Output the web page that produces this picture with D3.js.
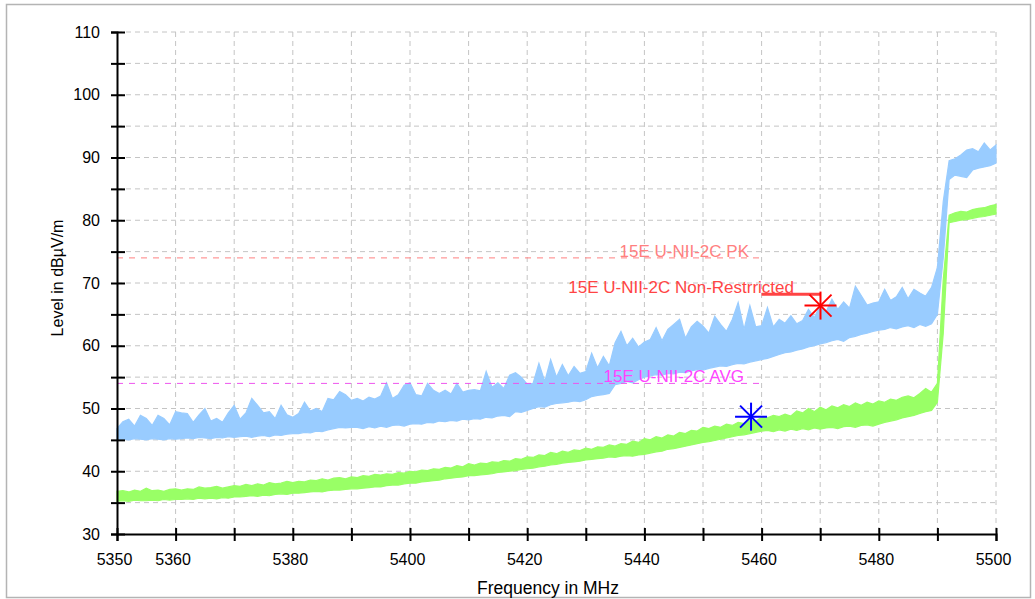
<!DOCTYPE html>
<html>
<head>
<meta charset="utf-8">
<script src="https://cdn.jsdelivr.net/npm/d3@7"></script>
<style>
  body { margin: 0; background: #fff; }
  svg { font-family: "Liberation Sans", Arial, sans-serif; }
</style>
</head>
<body>
<svg id="chart"></svg>
<script>
var width = 1035,
    height = 599;

// frequency axis (MHz), traces sampled every 1 MHz from 5350
var freqStart = 5350,
    freqEnd = 5500;

// peak trace (light blue): upper / lower edge of the noise band, dBµV/m
var pkHi = [46.8, 47.9, 48.3, 47.2, 48.9, 48.4, 47.3, 48.9, 48.4, 47.4, 49.5,
  49.3, 49.2, 47.8, 49.0, 50.0, 48.0, 48.4, 47.8, 49.3, 50.5,
  48.3, 49.3, 51.6, 50.5, 49.3, 49.5, 48.4, 50.5, 49.0, 48.6,
  49.2, 51.0, 49.6, 50.0, 49.5, 51.6, 51.4, 52.7, 52.2, 51.3,
  51.6, 51.2, 51.8, 51.5, 52.0, 54.1, 51.6, 52.2, 53.7, 54.1,
  52.2, 52.0, 54.0, 52.9, 52.4, 52.9, 52.3, 54.0, 52.6, 52.9,
  53.0, 52.8, 55.9, 53.4, 54.1, 53.2, 55.3, 55.7, 55.0, 53.9,
  54.0, 57.2, 54.3, 57.8, 55.0, 57.0, 55.2, 56.7, 55.6, 55.9,
  58.8, 56.5, 58.3, 56.8, 60.5, 62.3, 60.0, 61.2, 59.8, 60.6,
  61.0, 62.9, 60.8, 62.6, 63.4, 64.2, 61.2, 63.0, 63.9, 63.1,
  62.0, 64.7, 63.4, 62.3, 64.2, 66.9, 62.6, 66.4, 63.0, 63.2,
  66.1, 63.0, 64.2, 63.6, 64.8, 63.5, 64.0, 65.8, 64.5, 66.4,
  65.4, 67.4, 65.8, 67.0, 66.0, 69.5, 68.0, 66.5, 66.8, 67.0,
  69.0, 67.2, 67.8, 69.3, 67.5, 69.0, 68.4, 67.9, 69.3, 72.5,
  83.0, 89.5, 89.8, 90.4, 91.2, 91.4, 90.9, 92.3, 91.2, 92.0];
var pkLo = [45.0, 45.1, 45.0, 45.2, 45.1, 45.0, 45.2, 45.1, 45.0, 45.2, 45.1,
  45.2, 45.3, 45.2, 45.4, 45.3, 45.2, 45.4, 45.3, 45.5, 45.4,
  45.5, 45.6, 45.4, 45.6, 45.7, 45.5, 45.8, 45.7, 45.9, 46.0,
  46.0, 46.2, 46.1, 46.4, 46.3, 46.6, 46.8, 47.0, 46.9, 47.0,
  47.0, 46.8, 47.1, 46.9, 47.2, 47.0, 47.3, 47.4, 47.2, 47.5,
  47.6, 47.5, 47.8, 47.7, 48.0, 47.9, 48.1, 48.0, 48.3, 48.2,
  48.4, 48.3, 48.6, 48.5, 48.8, 48.9, 48.7, 49.5, 49.4, 49.7,
  50.0, 50.3, 50.2, 50.6, 50.8, 50.9, 51.0, 51.2, 51.1, 51.4,
  51.9, 52.1, 52.2, 52.4, 53.8, 54.0, 54.3, 54.1, 54.6, 55.0,
  55.2, 55.4, 55.3, 55.6, 55.5, 55.8, 55.7, 56.0, 56.2, 56.1,
  56.4, 56.6, 56.8, 56.7, 57.0, 57.2, 57.1, 57.4, 57.6, 57.8,
  58.0, 58.3, 58.6, 58.9, 59.0, 59.3, 59.5, 59.8, 60.0, 60.3,
  60.5, 60.8, 61.0, 60.7, 61.3, 61.5, 61.8, 62.0, 62.3, 62.5,
  62.6, 62.9, 62.7, 63.0, 63.2, 62.9, 63.4, 63.1, 63.5, 65.0,
  74.0, 86.5, 87.2, 87.0, 86.8, 88.0, 88.3, 88.5, 88.7, 89.1];

// average trace (green)
var avHi = [36.8, 36.9, 36.7, 37.0, 36.8, 37.3, 36.9, 37.0, 36.8, 37.1, 37.2,
  37.0, 37.2, 37.1, 37.5, 37.3, 37.4, 37.6, 37.3, 37.5, 37.7,
  37.6, 37.9, 37.7, 38.0, 37.8, 38.2, 38.0, 38.1, 38.4, 38.2,
  38.4, 38.3, 38.6, 38.5, 38.8, 38.6, 38.9, 39.0, 38.8, 39.1,
  39.0, 39.3, 39.2, 39.5, 39.4, 39.6, 39.5, 39.8, 39.7, 40.0,
  39.9, 40.2, 40.1, 40.4, 40.3, 40.6, 40.5, 40.9, 40.7, 41.2,
  41.0, 41.3, 41.2, 41.5, 41.4, 41.7, 41.6, 42.0, 41.9, 42.3,
  42.2, 42.6, 42.5, 43.0, 42.8, 43.2, 43.0, 43.4, 43.3, 43.7,
  43.5, 43.9, 43.8, 44.2, 44.0, 44.4, 44.3, 44.8, 44.6, 45.2,
  45.0, 45.5, 45.3, 45.8, 45.6, 46.2, 46.0, 46.5, 46.4, 47.0,
  46.8, 47.2, 47.0, 47.5, 47.3, 47.8, 47.6, 48.2, 48.0, 48.6,
  48.5, 48.9, 48.7, 49.1, 48.8, 49.6, 49.3, 50.0, 49.5, 50.2,
  49.8, 50.4, 50.1, 50.6, 50.3, 50.9, 50.5, 51.0, 50.7, 51.2,
  51.0, 51.5, 51.3, 51.8, 52.0, 51.7, 52.4, 53.2, 52.6, 54.0,
  70.6, 80.8, 81.2, 81.4, 81.3, 81.7, 81.9, 82.0, 82.3, 82.5];
var avLo = [35.2, 35.3, 35.2, 35.4, 35.3, 35.3, 35.4, 35.3, 35.5, 35.4, 35.5,
  35.5, 35.6, 35.5, 35.7, 35.6, 35.7, 35.6, 35.8, 35.7, 35.9,
  35.9, 36.0, 36.1, 36.0, 36.2, 36.1, 36.3, 36.4, 36.3, 36.5,
  36.5, 36.6, 36.7, 36.8, 36.7, 36.9, 37.0, 37.0, 37.1, 37.2,
  37.2, 37.3, 37.4, 37.5, 37.5, 37.7, 37.8, 37.8, 38.0, 38.1,
  38.1, 38.3, 38.4, 38.5, 38.6, 38.8, 38.9, 39.0, 39.1, 39.3,
  39.3, 39.4, 39.5, 39.6, 39.8, 39.9, 40.0, 40.1, 40.3, 40.4,
  40.5, 40.7, 40.8, 41.0, 41.1, 41.3, 41.4, 41.5, 41.6, 41.8,
  41.9, 42.0, 42.1, 42.3, 42.2, 42.4, 42.5, 42.4, 42.6, 42.7,
  42.9, 43.1, 43.2, 43.5, 43.6, 43.8, 44.0, 44.2, 44.4, 44.6,
  44.7, 44.9, 45.1, 45.3, 45.5, 45.7, 45.8, 46.0, 46.2, 46.4,
  46.5, 46.3, 46.6, 46.4, 46.7, 46.5, 46.8, 46.6, 46.9, 46.7,
  46.9, 47.0, 46.8, 47.1, 47.2, 47.0, 47.3, 47.4, 47.2, 47.5,
  47.8, 48.0, 48.2, 48.5, 48.7, 48.9, 49.2, 49.5, 49.7, 51.0,
  62.0, 79.6, 79.8, 80.0, 80.1, 80.3, 80.5, 80.6, 80.8, 81.0];

// limit lines [MHz, dBµV/m]
var pkLimit = [[5350, 74], [5460, 74]];
var avgLimit = [[5350, 54], [5460, 54]];
var nrLimit = [[5460, 68.2], [5470, 68.2]];

// markers
var markerFreq = [5470.05, 5458.2],
    markerLevel = [66.4, 48.7],
    markerColor = ["#ff0000", "#0000ff"];

// ticks
var xTicks = d3.range(5350, 5501, 10),
    xTickLabels = [5350, 5360, 5380, 5400, 5420, 5440, 5460, 5480, 5500];
var yTicks = d3.range(30, 111, 5),
    yTickLabels = [30, 40, 50, 60, 70, 80, 90, 100, 110];

var x = d3.scaleLinear().domain([freqStart, freqEnd]).range([117, 996]);
var y = d3.scaleLinear().domain([30, 110]).range([534, 32]);

var svg = d3.select("#chart")
  .attr("width", width)
  .attr("height", height);

// outer frame
svg.append("rect")
  .attr("x", 6.5).attr("y", 4.5)
  .attr("width", 1024).attr("height", 593)
  .attr("fill", "none")
  .attr("stroke", "#b4b4b4")
  .attr("stroke-width", 1.5);

// grid
var grid = svg.append("g").attr("class", "grid");
grid.selectAll("line.v")
    .data(xTicks.slice(1))
  .enter().append("line")
    .attr("x1", function (d) { return x(d); })
    .attr("x2", function (d) { return x(d); })
    .attr("y1", y(110)).attr("y2", y(30))
    .attr("stroke", "#c4c4c4")
    .attr("stroke-dasharray", "5,4");
grid.selectAll("line.h")
    .data(yTicks.slice(1))
  .enter().append("line")
    .attr("x1", x(freqStart)).attr("x2", x(freqEnd))
    .attr("y1", function (d) { return y(d); })
    .attr("y2", function (d) { return y(d); })
    .attr("stroke", "#c4c4c4")
    .attr("stroke-dasharray", "5,4");

// traces
function band(hi, lo) {
  return hi.map(function (h, i) { return { f: freqStart + i, hi: h, lo: lo[i] }; });
}
var area = d3.area()
  .x(function (d) { return x(d.f); })
  .y0(function (d) { return y(d.lo); })
  .y1(function (d) { return y(d.hi); });

svg.append("path")
  .datum(band(pkHi, pkLo))
  .attr("d", area)
  .attr("fill", "#99ccff")
  .attr("stroke", "#99ccff")
  .attr("stroke-width", 1.2);

svg.append("path")
  .datum(band(avHi, avLo))
  .attr("d", area)
  .attr("fill", "#99ff66")
  .attr("stroke", "#99ff66")
  .attr("stroke-width", 1.2);

// limit lines
var line = d3.line()
  .x(function (d) { return x(d[0]); })
  .y(function (d) { return y(d[1]); });

svg.append("path").datum(pkLimit)
  .attr("d", line)
  .attr("stroke", "#ff8080").attr("stroke-width", 1)
  .attr("stroke-dasharray", "6,6").attr("fill", "none");
svg.append("path").datum(avgLimit)
  .attr("d", line)
  .attr("stroke", "#ee55ee").attr("stroke-width", 1)
  .attr("stroke-dasharray", "6,6").attr("fill", "none");
svg.append("path").datum(nrLimit)
  .attr("d", line)
  .attr("stroke", "#ff4444").attr("stroke-width", 3)
  .attr("fill", "none");

svg.append("text")
  .attr("x", 749).attr("y", y(74) - 1)
  .attr("text-anchor", "end")
  .attr("font-size", "17px")
  .attr("fill", "#ff8080")
  .text("15E U-NII-2C PK");
svg.append("text")
  .attr("x", 744).attr("y", y(54) - 1)
  .attr("text-anchor", "end")
  .attr("font-size", "17px")
  .attr("fill", "#ff44ff")
  .text("15E U-NII-2C AVG");
svg.append("text")
  .attr("x", 794).attr("y", y(68.2) - 1)
  .attr("text-anchor", "end")
  .attr("font-size", "17px")
  .attr("fill", "#ff4444")
  .text("15E U-NII-2C Non-Restrricted");

// markers (asterisks)
markerFreq.forEach(function (f, i) {
  var cx = x(f), cy = y(markerLevel[i]);
  var g = svg.append("g")
    .attr("stroke", markerColor[i])
    .attr("stroke-width", 2);
  var arms = [[-16, 0, 16, 0], [0, -14, 0, 14], [-11, -11, 11, 11], [-11, 11, 11, -11]];
  arms.forEach(function (a) {
    g.append("line")
      .attr("x1", cx + a[0]).attr("y1", cy + a[1])
      .attr("x2", cx + a[2]).attr("y2", cy + a[3]);
  });
});

// axes
var yAxis = svg.append("g")
  .attr("transform", "translate(" + x(freqStart) + ",0)")
  .call(d3.axisLeft(y)
    .tickValues(yTicks)
    .tickSize(6)
    .tickPadding(11)
    .tickFormat(function (d) { return yTickLabels.indexOf(d) >= 0 ? d : ""; }));
yAxis.select(".domain").attr("stroke", "#000").attr("stroke-width", 2);
yAxis.selectAll(".tick line").attr("x1", 8).attr("stroke-width", 2);
yAxis.selectAll(".tick text").attr("font-size", "16px").attr("fill", "#000");

var xAxis = svg.append("g")
  .attr("transform", "translate(0," + y(30) + ")")
  .call(d3.axisBottom(x)
    .tickValues(xTicks)
    .tickSize(7)
    .tickPadding(13)
    .tickFormat(function (d) { return xTickLabels.indexOf(d) >= 0 ? d : ""; }));
xAxis.select(".domain").attr("stroke", "#000").attr("stroke-width", 2);
xAxis.selectAll(".tick line").attr("y1", -6).attr("stroke-width", 2);
xAxis.selectAll(".tick text").attr("font-size", "16px").attr("fill", "#000").attr("dx", -3);

// axis titles
svg.append("text")
  .attr("x", 548).attr("y", 594)
  .attr("text-anchor", "middle")
  .attr("font-size", "17.5px")
  .text("Frequency in MHz");
svg.append("text")
  .attr("transform", "translate(63,278) rotate(-90)")
  .attr("text-anchor", "middle")
  .attr("font-size", "16px")
  .text("Level in dBµV/m");
</script>
</body>
</html>
